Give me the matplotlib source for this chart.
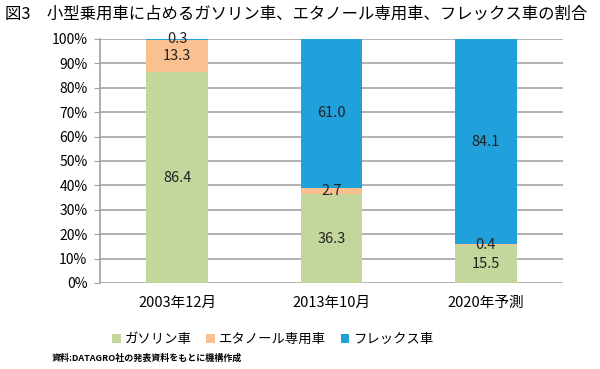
import matplotlib
matplotlib.use("Agg")
import matplotlib.pyplot as plt
from matplotlib.patches import Patch
import numpy as np

plt.rcParams['font.family'] = ['Noto Sans CJK JP', 'DejaVu Sans']

categories = ['2003年12月', '2013年10月', '2020年予測']
series_names = ['ガソリン車', 'エタノール専用車', 'フレックス車']
gasoline = [86.4, 36.3, 15.5]
ethanol = [13.3, 2.7, 0.4]
flex = [0.3, 61.0, 84.1]
colors = ['#C3D69B', '#FAC090', '#21A1DC']
title = '図3\u3000小型乗用車に占めるガソリン車、エタノール専用車、フレックス車の割合'
source = '資料:DATAGRO社の発表資料をもとに機構作成'

fig = plt.figure(figsize=(6, 3.69), dpi=100)
ax = fig.add_axes([100/600, 1-283/369, 463/600, 244/369])

x = np.arange(len(categories))
w = 0.4
bottom = np.zeros(len(categories))
for vals, col in zip([gasoline, ethanol, flex], colors):
    vals = np.array(vals)
    ax.bar(x, vals, w, bottom=bottom, color=col, zorder=3)
    for xi, v, b in zip(x, vals, bottom):
        ax.text(xi, b + v/2, f'{v:.1f}', ha='center', va='center', fontsize=10.5,
                color='#222222', zorder=4)
    bottom = bottom + vals

ax.set_xlim(-0.5, 2.5)
ax.set_ylim(0, 100)
ax.set_yticks(np.arange(0, 101, 10))
ax.set_yticklabels([f'{v}%' for v in range(0, 101, 10)], fontsize=10)
ax.set_xticks(x)
ax.set_xticklabels(categories, fontsize=10.5)
ax.tick_params(axis='x', length=0, pad=9)
ax.tick_params(axis='y', length=4, color='#A0A0A0', pad=5)
ax.yaxis.grid(True, color='#A6A6A6', linewidth=1.2, zorder=0)
for s in ['top', 'right', 'bottom']:
    ax.spines[s].set_visible(False)
ax.spines['left'].set_color('#A0A0A0')
ax.spines['left'].set_linewidth(1.2)

handles = [Patch(facecolor=c, edgecolor='none') for c in colors]
fig.legend(handles, series_names, loc='center', bbox_to_anchor=(273/600, 1-339/369),
           ncol=3, frameon=False, fontsize=9.6, handlelength=0.65, handleheight=0.65,
           handletextpad=0.3, columnspacing=1.1)

fig.text(5/600, 1-14/369, title, fontsize=11.8, va='center', ha='left')
fig.text(52/600, 1-358/369, source, fontsize=6.5, va='center', ha='left', fontweight='bold')

fig.savefig('out.png', dpi=100)
